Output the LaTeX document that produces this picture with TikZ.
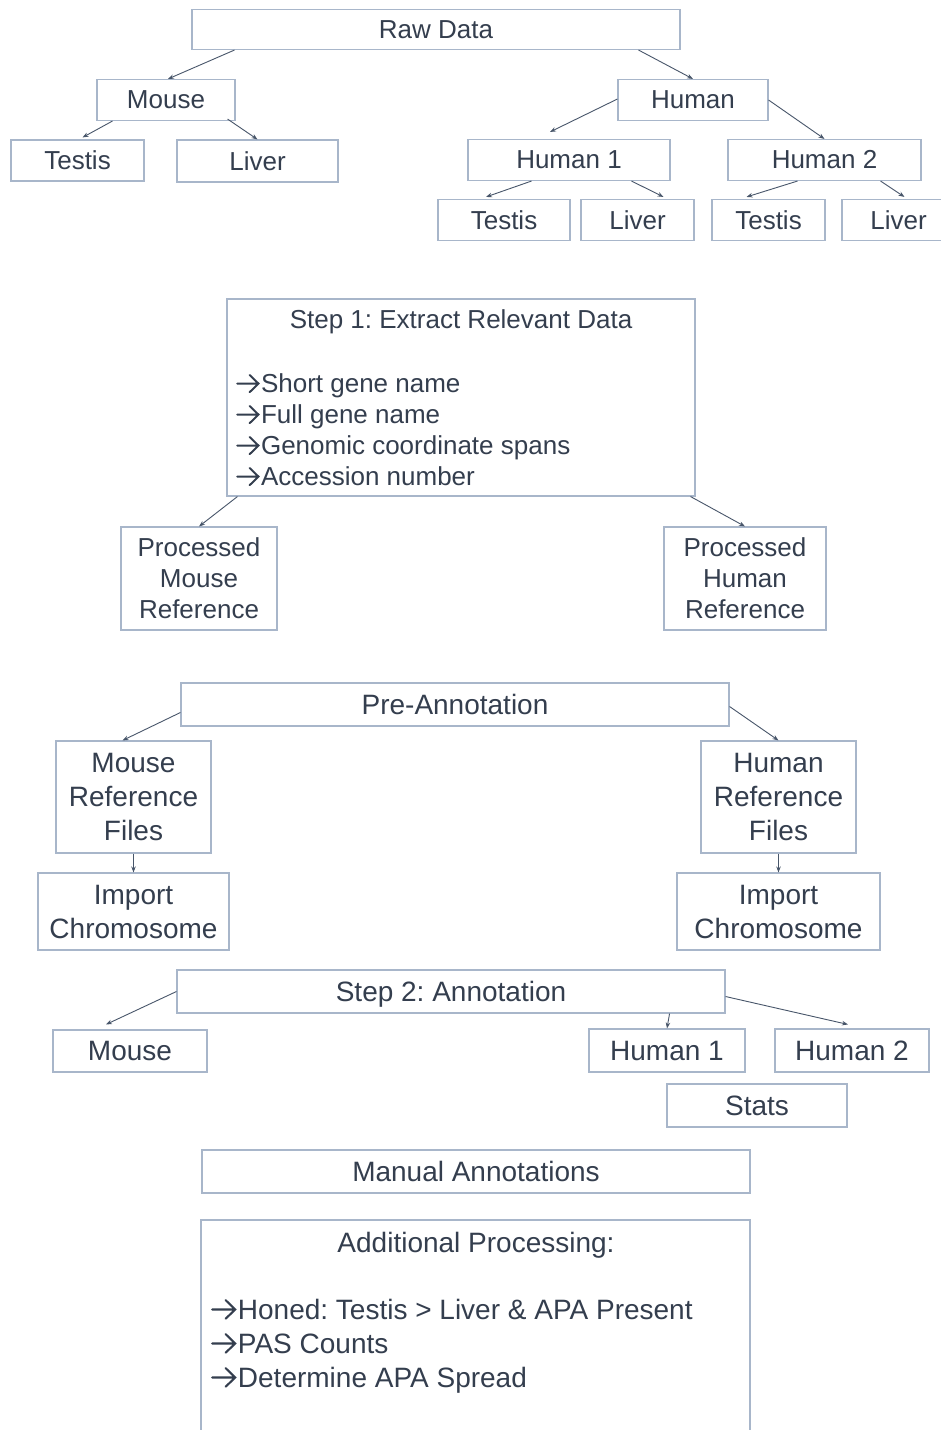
\documentclass[tikz,border=0pt]{standalone}
\usepackage{fontspec}
\setmainfont{Liberation Sans}
\usetikzlibrary{arrows.meta}

\definecolor{boxline}{RGB}{168,182,202}
\definecolor{boxtext}{RGB}{52,62,78}
\definecolor{linkcol}{RGB}{72,86,106}

% item arrow as in the list boxes
\newcommand{\itemarrow}{\tikz[x=1em,y=1em,baseline=0pt]\draw[draw=boxtext,line width=0.075em,line cap=round,line join=miter] (0.04,0.35) -- (0.84,0.35) (0.52,0.68) -- (0.86,0.35) -- (0.52,0.02);\hspace{0.06em}}

\tikzset{
	box/.style={draw=boxline, line width=1.1pt, text=boxtext, inner sep=0pt, align=center},
	upper/.style={font=\fontsize{26}{31}\selectfont},
	lower/.style={font=\fontsize{28}{34}\selectfont},
	txt/.style={text=boxtext, inner sep=0pt},
}

\begin{document}
\frenchspacing
\begin{tikzpicture}[x=1pt,y=-1pt,>={Stealth[length=6pt,width=4.5pt]},every path/.style={line width=0.9pt},link/.style={draw=linkcol,->}]
	\useasboundingbox[fill=white] (0,0) rectangle (940,1430);
	% raw data tree
	\node[box,upper,minimum width=488pt,minimum height=40pt] (raw) at (436,29.5) {Raw Data};
	\node[box,upper,minimum width=138pt,minimum height=41pt] (mouse) at (166,100) {Mouse};
	\node[box,upper,minimum width=133pt,minimum height=41pt] (mtestis) at (77.5,160.5) {Testis};
	\node[box,upper,minimum width=161pt,minimum height=42pt] (mliver) at (257.5,161) {Liver};
	\node[box,upper,minimum width=150pt,minimum height=41pt] (human) at (693,100) {Human};
	\node[box,upper,minimum width=202pt,minimum height=41pt] (hum1) at (569,160) {Human 1};
	\node[box,upper,minimum width=193pt,minimum height=41pt] (hum2) at (824.5,160) {Human 2};
	\node[box,upper,minimum width=132pt,minimum height=41pt] (htestis1) at (504,220) {Testis};
	\node[box,upper,minimum width=113pt,minimum height=41pt] (hliver1) at (637.5,220) {Liver};
	\node[box,upper,minimum width=113pt,minimum height=41pt] (htestis2) at (768.5,220) {Testis};
	\node[box,upper,minimum width=113pt,minimum height=41pt] (hliver2) at (898.5,220) {Liver};
	\draw[link] ([xshift=43pt]raw.south west) -- ([xshift=2pt]mouse.north);
	\draw[link] ([xshift=-42pt]raw.south east) -- (human.north);
	\draw[link] ([xshift=16pt]mouse.south west) -- ([xshift=5pt,yshift=2pt]mtestis.north);
	\draw[link] ([xshift=-8pt,yshift=2pt]mouse.south east) -- (mliver.north);
	\draw[link] ([yshift=1pt]human.west) -- ([xshift=-19pt,yshift=7pt]hum1.north);
	\draw[link] (human.east) -- (hum2.north);
	\draw[link] ([xshift=64pt]hum1.south west) -- ([xshift=-18pt,yshift=2pt]htestis1.north);
	\draw[link] ([xshift=-39pt]hum1.south east) -- ([xshift=26pt,yshift=2pt]hliver1.north);
	\draw[link] ([xshift=70pt]hum2.south west) -- ([xshift=-22pt,yshift=2pt]htestis2.north);
	\draw[link] ([xshift=-41pt]hum2.south east) -- ([xshift=6pt,yshift=2pt]hliver2.north);

	% step 1
	\node[box,minimum width=468pt,minimum height=197pt] (step1) at (461,397.5) {};
	\node[txt,upper] (step1title) at (461,322) {Step 1: Extract Relevant Data};
	\node[txt,upper,anchor=west,align=left] (step1list) at (236,430) {\itemarrow Short gene name\\\itemarrow Full gene name\\\itemarrow Genomic coordinate spans\\\itemarrow Accession number};
	\node[box,upper,minimum width=156pt,minimum height=103pt] (procmouse) at (199,578.5) {Processed\\Mouse\\Reference};
	\node[box,upper,minimum width=162pt,minimum height=103pt] (prochuman) at (745,578.5) {Processed\\Human\\Reference};
	\draw[link] ([xshift=11pt]step1.south west) -- (procmouse.north);
	\draw[link] ([xshift=-5pt]step1.south east) -- (prochuman.north);

	% pre-annotation
	\node[box,lower,minimum width=548pt,minimum height=43pt] (preann) at (455,704.5) {Pre-Annotation};
	\node[box,lower,minimum width=155pt,minimum height=112pt] (mref) at (133.5,797) {Mouse\\Reference\\Files};
	\node[box,lower,minimum width=155pt,minimum height=112pt] (href) at (778.5,797) {Human\\Reference\\Files};
	\node[box,lower,minimum width=191pt,minimum height=77pt] (mchrom) at (133.5,911.5) {Import\\Chromosome};
	\node[box,lower,minimum width=203pt,minimum height=77pt] (hchrom) at (778.5,911.5) {Import\\Chromosome};
	\draw[link] ([yshift=-8pt]preann.west) -- ([xshift=-11pt]mref.north);
	\draw[link] ([yshift=-2pt]preann.east) -- (href.north);
	\draw[link] (mref.south) -- (mchrom.north);
	\draw[link] (href.south) -- (hchrom.north);

	% step 2
	\node[box,lower,text depth=0pt,minimum width=548pt,minimum height=43pt] (step2) at (451,991.5) {Step 2: Annotation};
	\node[box,lower,minimum width=154pt,minimum height=42pt] (amouse) at (130,1051) {Mouse};
	\node[box,lower,minimum width=156pt,minimum height=43pt] (ahum1) at (667,1050.5) {Human 1};
	\node[box,lower,minimum width=154pt,minimum height=43pt] (ahum2) at (852,1050.5) {Human 2};
	\node[box,lower,minimum width=180pt,minimum height=43pt] (stats) at (757,1105.5) {Stats};
	\draw[link] (step2.west) -- ([xshift=-24pt,yshift=5pt]amouse.north);
	\draw[link] ([xshift=-56pt]step2.south east) -- (ahum1.north);
	\draw[link] ([yshift=-5pt]step2.east) -- ([xshift=-4pt,yshift=4pt]ahum2.north);

	% manual + additional
	\node[box,lower,minimum width=548pt,minimum height=43pt] (manual) at (476,1171.5) {Manual Annotations};
	\node[box,minimum width=549pt,minimum height=260pt] (addproc) at (475.5,1350) {};
	\node[txt,lower] (addtitle) at (476,1245) {Additional Processing:};
	\node[txt,lower,anchor=west,align=left] (addlist) at (211,1346) {\itemarrow Honed: Testis > Liver \& APA Present\\\itemarrow PAS Counts\\\itemarrow Determine APA Spread};
\end{tikzpicture}
\end{document}
